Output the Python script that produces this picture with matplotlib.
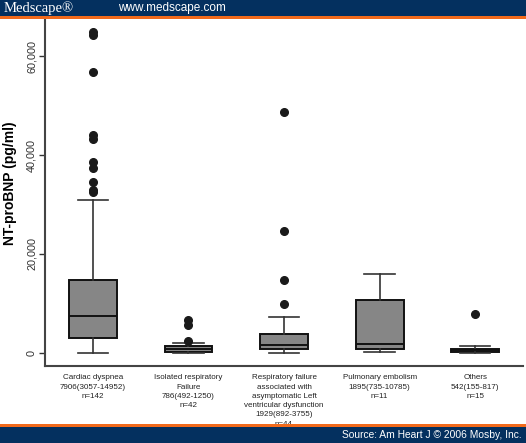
import matplotlib.pyplot as plt
from matplotlib.patches import Rectangle

# data
groups = ['Cardiac dyspnea\n7906(3057-14952)\nn=142',
          'Isolated respiratory\nFailure\n786(492-1250)\nn=42',
          'Respiratory failure\nassociated with\nasymptomatic Left\nventricular dysfunction\n1929(892-3755)\nn=44',
          'Pulmonary embolism\n1895(735-10785)\nn=11',
          'Others\n542(155-817)\nn=15']
q1 = [3000, 150, 800, 700, 100]
med = [7500, 650, 1600, 1700, 450]
q3 = [14700, 1250, 3750, 10700, 800]
whislo = [0, 0, 0, 200, 0]
whishi = [30900, 2000, 7300, 15900, 1400]
fliers = [[65000, 64300, 56800, 44000, 43300, 38600, 37400, 34600, 33000, 32500],
          [2400, 5600, 6700],
          [9800, 14600, 24600, 48800],
          [],
          [7800]]
yticks = [0, 20000, 40000, 60000]
ytick_labels = ['0', '20,000', '40,000', '60,000']

navy = '#04305f'
orange = '#f26a1b'

plt.rcParams['font.family'] = ['Liberation Sans', 'DejaVu Sans']

fig = plt.figure(figsize=(5.26, 4.43), dpi=100)
fig.patch.set_facecolor('white')

# header / footer bands
fig.patches.append(Rectangle((0, 1 - 16 / 443), 1, 16 / 443, transform=fig.transFigure,
                             facecolor=navy, edgecolor='none', zorder=0))
fig.patches.append(Rectangle((0, 1 - 19 / 443), 1, 3 / 443, transform=fig.transFigure,
                             facecolor=orange, edgecolor='none', zorder=0))
fig.patches.append(Rectangle((0, 0), 1, 16 / 443, transform=fig.transFigure,
                             facecolor=navy, edgecolor='none', zorder=0))
fig.patches.append(Rectangle((0, 16 / 443), 1, 3 / 443, transform=fig.transFigure,
                             facecolor=orange, edgecolor='none', zorder=0))
fig.text(4 / 526, 1 - 8 / 443, 'Medscape\u00ae', color='white', fontsize=10.5,
         family='Liberation Serif', va='center', ha='left')
fig.text(118 / 526, 1 - 8 / 443, 'www.medscape.com', color='white', fontsize=8.5,
         va='center', ha='left')
fig.text(522 / 526, 8 / 443, 'Source: Am Heart J \u00a9 2006 Mosby, Inc.', color='white',
         fontsize=7.4, va='center', ha='right')

ax = fig.add_axes([45 / 526, 1 - 366 / 443, 478 / 526, 346 / 443])

stats = []
for i in range(len(groups)):
    stats.append({'q1': q1[i], 'med': med[i], 'q3': q3[i],
                  'whislo': whislo[i], 'whishi': whishi[i], 'fliers': fliers[i]})

ax.bxp(stats, positions=range(1, 6), widths=0.5, capwidths=0.32, patch_artist=True,
       boxprops=dict(facecolor='#868686', edgecolor='#111111', linewidth=1.4),
       medianprops=dict(color='#111111', linewidth=1.4),
       whiskerprops=dict(color='#333333', linewidth=1.2),
       capprops=dict(color='#333333', linewidth=1.2),
       flierprops=dict(marker='o', markerfacecolor='#1a1a1a', markeredgecolor='#1a1a1a',
                       markersize=5.5))

ax.set_xlim(0.5, 5.5)
ax.set_ylim(-2710, 67330)
ax.set_yticks(yticks)
ax.set_yticklabels(ytick_labels, rotation=90, va='center', fontsize=7.8, color='#333333')
ax.tick_params(axis='y', length=4, width=1, color='#333333', pad=2)
ax.set_xticks(range(1, 6))
ax.set_xticklabels(groups, fontsize=5.8, color='#222222', linespacing=1.45,
                   multialignment='center')
ax.tick_params(axis='x', length=0, pad=6)
ax.set_ylabel('NT-proBNP (pg/ml)', fontsize=10, fontweight='bold')
ax.yaxis.set_label_coords(-0.058, 0.527)

for s in ['top', 'right']:
    ax.spines[s].set_visible(False)
for s in ['left', 'bottom']:
    ax.spines[s].set_color('#444444')
    ax.spines[s].set_linewidth(1.5)

fig.savefig('out.png', dpi=100)
